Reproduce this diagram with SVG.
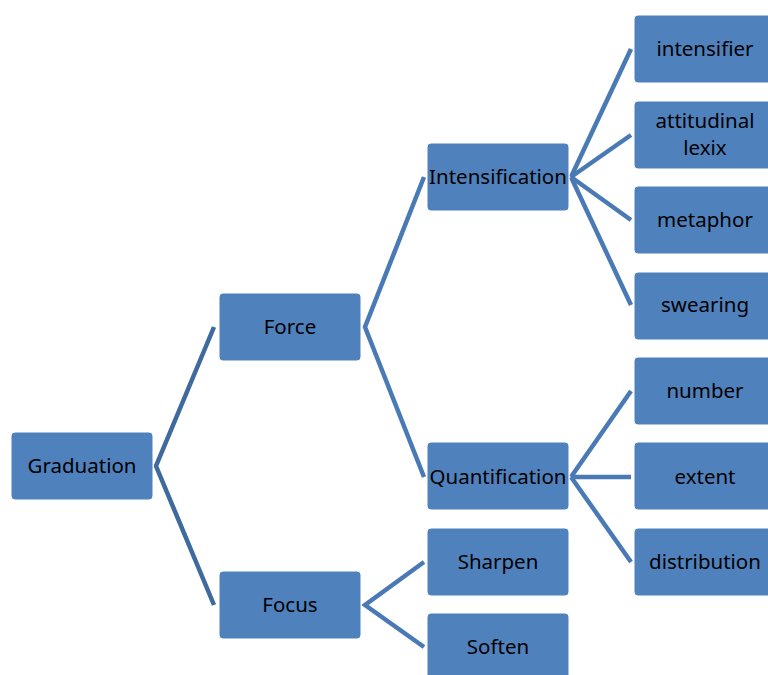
<svg xmlns="http://www.w3.org/2000/svg" width="768" height="675" viewBox="0 0 768 675">
<style>
.box{fill:#4f81bd;stroke:#ffffff;stroke-width:1}
.t{font-family:"Noto Sans","Open Sans",sans-serif;font-size:20.5px;fill:#000;text-anchor:middle}
.c{fill:none;stroke:#4a7ab5;stroke-width:4.5;stroke-linejoin:miter}
.c0{fill:none;stroke:#3f6a9e;stroke-width:4.5}
</style>
<rect width="768" height="675" fill="#fff"/>
<g id="connectors">
<polyline class="c0" points="214,327 156,466 214,605"/>
<polyline class="c" points="424,177 365,327 424,477"/>
<polyline class="c" points="424,562 365,605 424,647"/>
<line class="c" x1="571" y1="177" x2="631" y2="49"/>
<line class="c" x1="571" y1="177" x2="631" y2="135"/>
<line class="c" x1="571" y1="177" x2="631" y2="220"/>
<line class="c" x1="571" y1="177" x2="631" y2="305"/>
<line class="c" x1="571" y1="477" x2="631" y2="391"/>
<line class="c" x1="571" y1="477" x2="631" y2="477"/>
<line class="c" x1="571" y1="477" x2="631" y2="562"/>
</g>
<g id="graduation"><rect class="box" x="11" y="432" width="142" height="68" rx="4"/><text class="t" x="82" y="473">Graduation</text></g>
<g id="force"><rect class="box" x="219" y="293" width="142" height="68" rx="4"/><text class="t" x="290" y="334">Force</text></g>
<g id="focus"><rect class="box" x="219" y="571" width="142" height="68" rx="4"/><text class="t" x="290" y="612">Focus</text></g>
<g id="intensification"><rect class="box" x="427" y="143" width="142" height="68" rx="4"/><text class="t" x="498" y="184">Intensification</text></g>
<g id="quantification"><rect class="box" x="427" y="442" width="142" height="68" rx="4"/><text class="t" x="498" y="484">Quantification</text></g>
<g id="sharpen"><rect class="box" x="427" y="528" width="142" height="68" rx="4"/><text class="t" x="498" y="569">Sharpen</text></g>
<g id="soften"><rect class="box" x="427" y="613" width="142" height="68" rx="4"/><text class="t" x="498" y="654">Soften</text></g>
<g id="intensifier"><rect class="box" x="634" y="15" width="142" height="68" rx="4"/><text class="t" x="705" y="56">intensifier</text></g>
<g id="attitudinal"><rect class="box" x="634" y="101" width="142" height="68" rx="4"/><text class="t" x="705" y="128">attitudinal</text><text class="t" x="705" y="155">lexix</text></g>
<g id="metaphor"><rect class="box" x="634" y="186" width="142" height="68" rx="4"/><text class="t" x="705" y="227">metaphor</text></g>
<g id="swearing"><rect class="box" x="634" y="272" width="142" height="68" rx="4"/><text class="t" x="705" y="312">swearing</text></g>
<g id="number"><rect class="box" x="634" y="357" width="142" height="68" rx="4"/><text class="t" x="705" y="398">number</text></g>
<g id="extent"><rect class="box" x="634" y="442" width="142" height="68" rx="4"/><text class="t" x="705" y="484">extent</text></g>
<g id="distribution"><rect class="box" x="634" y="528" width="142" height="68" rx="4"/><text class="t" x="705" y="569">distribution</text></g>
</svg>
